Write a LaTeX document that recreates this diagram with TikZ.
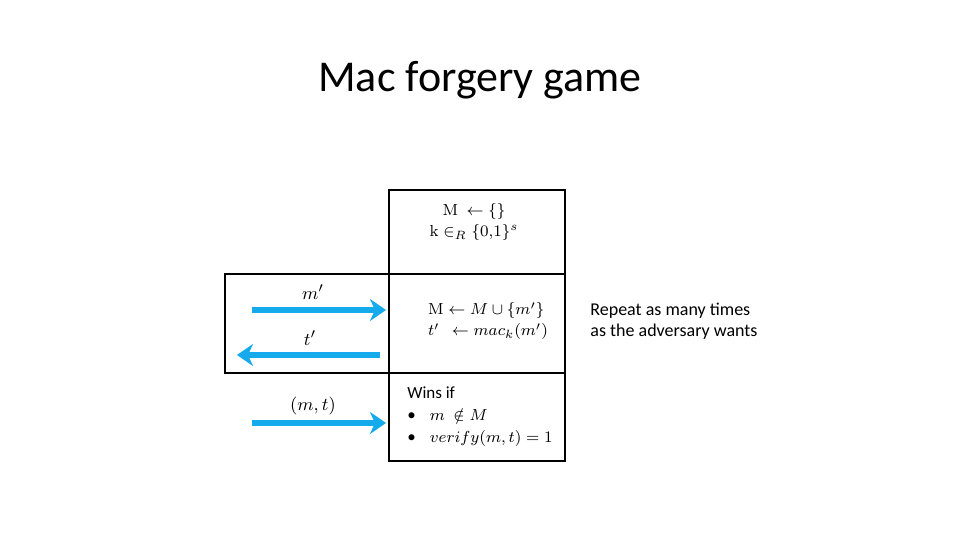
\documentclass[tikz,border=0pt]{standalone}
\usepackage[no-math]{fontspec}
\setmainfont{Carlito}
\usetikzlibrary{arrows.meta}
\definecolor{msgblue}{RGB}{20,170,235}
\begin{document}
\begin{tikzpicture}[x=0.5pt, y=-0.5pt, every node/.style={align=left}]
\tikzset{
  cell/.style={draw, line width=1pt, inner sep=0pt, minimum width=88pt},
  msg/.style={draw=msgblue, line width=2.6pt, -{Stealth[length=8pt, width=11pt, inset=2.5pt]}, shorten >=1pt},
  msglabel/.style={font=\fontsize{9.5}{11}\selectfont, inner sep=1pt},
  celltext/.style={font=\fontsize{8.5}{10.5}\selectfont, inner sep=0pt}
}
\useasboundingbox (0,0) rectangle (960,540);
% title
\node[font=\fontsize{22}{26}\selectfont] (title) at (480,80) {Mac forgery game};
% boxes
\node[cell, minimum height=42pt] (setup) at (477,232) {};
\node[cell, minimum height=49.5pt] (oracle) at (477,323.5) {};
\node[cell, minimum width=82pt, minimum height=49.5pt] (adv) at (307,323.5) {};
\node[cell, minimum height=44pt] (check) at (477,417) {};
% box texts
\node[celltext, align=center] (init) at (474,222) {$\mathrm{M}\ \leftarrow \{\}$\\$\mathrm{k} \in_R \{0{,}1\}^s$};
\node[celltext] (query) at (488,321) {$\mathrm{M} \leftarrow M \cup \{m'\}$\\$t'\ \ \leftarrow mac_k(m')$};
\node[celltext, anchor=north west] (wins) at (407,386) {Wins if\\[0.5pt]
  \textbullet\hspace{7pt}$m\ \notin M$\\[0.5pt]
  \textbullet\hspace{7pt}$verify(m,t) = 1$};
\node[font=\fontsize{9}{10.5}\selectfont, anchor=west, inner sep=0pt] (repeat) at (590,321) {Repeat as many times\\as the adversary wants};
% messages
\coordinate (mstart) at (252,310);
\coordinate (tend) at (235,355);
\coordinate (tstart) at (380,355);
\coordinate (fstart) at (252,423);
\draw[msg] (mstart) -- (mstart -| oracle.west);
\draw[msg] (tstart) -- (tend);
\draw[msg] (fstart) -- (fstart -| check.west);
\node[msglabel] (mlab) at (313,292) {$m'$};
\node[msglabel] (tlab) at (310,338) {$t'$};
\node[msglabel] (flab) at (313,406) {$(m,t)$};
\end{tikzpicture}
\end{document}
